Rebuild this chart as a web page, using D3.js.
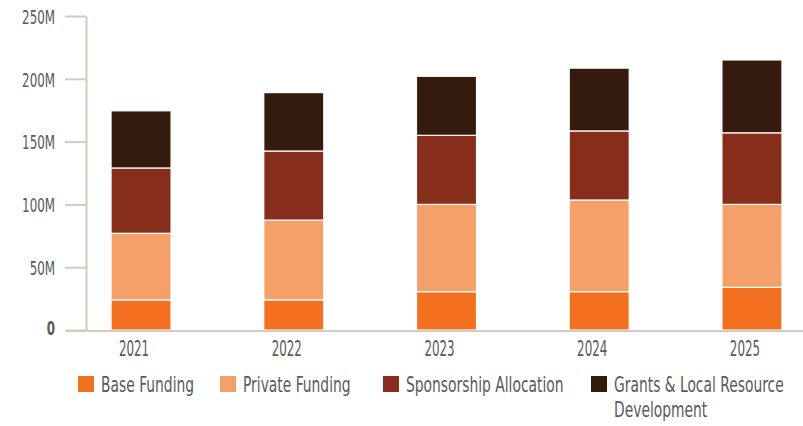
<!DOCTYPE html>
<html>
<head>
<meta charset="utf-8">
<script src="https://cdn.jsdelivr.net/npm/d3@7"></script>
<style>
  body { margin: 0; background: #fff; }
  svg text { font-family: "Liberation Sans Narrow", "DejaVu Sans Condensed", "DejaVu Sans", sans-serif; fill: #5a5a5a; }
</style>
</head>
<body>
<svg width="803" height="426"></svg>
<script>
// years + series (values in millions)
var years = ["2021", "2022", "2023", "2024", "2025"];
var baseFunding = [24, 24, 30.5, 30.5, 34];
var privateFunding = [53, 63.5, 69.5, 73, 66];
var sponsorship = [52, 55, 55, 55, 57];
var grants = [45.5, 46.5, 47, 50, 58];
var seriesNames = ["Base Funding", "Private Funding", "Sponsorship Allocation", "Grants & Local Resource Development"];
var yTicks = [0, 50, 100, 150, 200, 250];

var colors = ["#f37021", "#f4a068", "#862e1b", "#351a0e"];
var axisColor = "#d2cbc3";

var svg = d3.select("svg");

// squeeze text sideways, the original uses a narrow font
function condense(sel, ratio) {
  sel.each(function() {
    var w = this.getComputedTextLength();
    d3.select(this).attr("textLength", w * ratio).attr("lengthAdjust", "spacingAndGlyphs");
  });
}

var rows = years.map(function(y, i) {
  return { year: y, s0: baseFunding[i], s1: privateFunding[i], s2: sponsorship[i], s3: grants[i] };
});
var keys = ["s0", "s1", "s2", "s3"];
var stacked = d3.stack().keys(keys)(rows);

var x = d3.scaleBand().domain(years).range([86, 807]).paddingInner(0.607).paddingOuter(0.164);
var y = d3.scaleLinear().domain([0, 250]).range([330, 16]);

// y axis
var yAxis = svg.append("g")
    .attr("transform", "translate(86,0)")
    .call(d3.axisLeft(y).tickValues(yTicks).tickSize(21).tickSizeOuter(0).tickPadding(10)
      .tickFormat(function(d) { return d === 0 ? "0" : d + "M"; }));
yAxis.select(".domain").attr("stroke", axisColor).attr("stroke-width", 2);
yAxis.selectAll(".tick line").attr("stroke", axisColor).attr("stroke-width", 2);
yAxis.selectAll(".tick text").style("font-size", "20px").attr("dy", "0.36em");
yAxis.selectAll(".tick text").filter(function(d) { return d === 0; })
    .style("font-weight", "bold").attr("dy", "0.2em");
condense(yAxis.selectAll(".tick text"), 0.66);

// bars
svg.append("g").selectAll("g")
  .data(stacked)
  .enter().append("g")
    .attr("fill", function(d, i) { return colors[i]; })
  .selectAll("rect")
  .data(function(d) { return d; })
  .enter().append("rect")
    .attr("x", function(d) { return x(d.data.year); })
    .attr("y", function(d) { return y(d[1]); })
    .attr("width", x.bandwidth())
    .attr("height", function(d) { return y(d[0]) - y(d[1]); })
    .attr("stroke", "#fff")
    .attr("stroke-width", 1.2);

// x axis
svg.append("line")
    .attr("x1", 66).attr("x2", 803)
    .attr("y1", 331).attr("y2", 331)
    .attr("stroke", axisColor).attr("stroke-width", 2);

var xAxis = svg.append("g")
    .attr("transform", "translate(0,332)")
    .call(d3.axisBottom(x).tickSize(0).tickPadding(8));
xAxis.select(".domain").remove();
xAxis.selectAll(".tick text").style("font-size", "22px").attr("dx", "-7").attr("dy", "0.72em");
condense(xAxis.selectAll(".tick text"), 0.6);

// legend
var legendX = [78, 220, 383, 591];
var ratio = 0.7;
var legend = svg.append("g").attr("transform", "translate(0,376)");
var item = legend.selectAll("g")
  .data(seriesNames)
  .enter().append("g")
    .attr("transform", function(d, i) { return "translate(" + legendX[i] + ",0)"; });
item.append("rect")
    .attr("width", 16).attr("height", 16)
    .attr("fill", function(d, i) { return colors[i]; });
item.each(function(d) {
  var g = d3.select(this);
  var words = d.split(" "), lines = [], line = [];
  var probe = g.append("text").style("font-size", "22px");
  words.forEach(function(w) {
    line.push(w);
    probe.text(line.join(" "));
    if (probe.node().getComputedTextLength() * ratio > 180 && line.length > 1) {
      line.pop();
      lines.push(line.join(" "));
      line = [w];
    }
  });
  lines.push(line.join(" "));
  probe.remove();
  lines.forEach(function(l, k) {
    var t = g.append("text")
        .attr("x", 23)
        .attr("y", 16 + k * 25)
        .style("font-size", "22px")
        .text(l);
    condense(t, ratio);
  });
});
</script>
</body>
</html>
